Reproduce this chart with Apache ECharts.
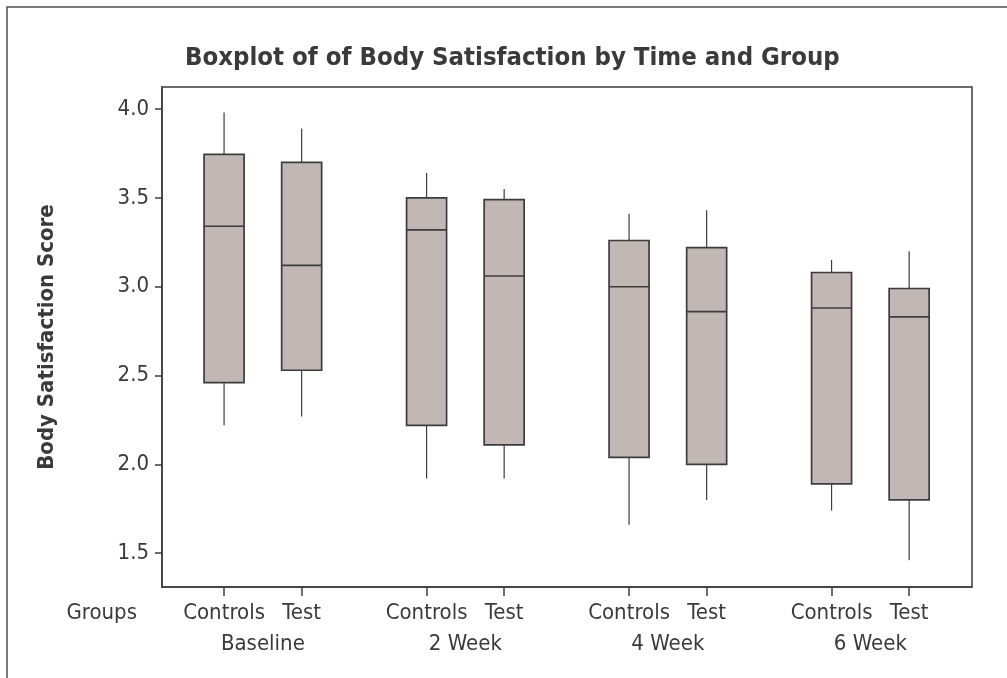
<!DOCTYPE html>
<html>
<head>
<meta charset="utf-8">
<script src="https://cdn.jsdelivr.net/npm/echarts@6/dist/echarts.min.js"></script>
<style>
  html, body { margin: 0; padding: 0; background: #ffffff; }
  #chart { width: 1007px; height: 678px; }
</style>
</head>
<body>
<div id="chart"></div>
<script>
// Time points and groups along the x axis
const timePoints = ['Baseline', '2 Week', '4 Week', '6 Week'];
const groups = ['Controls', 'Test'];

// Five-number summaries, one entry per box, ordered
// Baseline-Controls, Baseline-Test, 2 Week-Controls, 2 Week-Test, ...
const whiskerLow  = [2.22, 2.27, 1.92, 1.92, 1.66, 1.80, 1.74, 1.46];
const quartile1   = [2.46, 2.53, 2.22, 2.11, 2.04, 2.00, 1.89, 1.80];
const medians     = [3.34, 3.12, 3.32, 3.06, 3.00, 2.86, 2.88, 2.83];
const quartile3   = [3.745, 3.70, 3.50, 3.49, 3.26, 3.22, 3.08, 2.99];
const whiskerHigh = [3.98, 3.89, 3.64, 3.55, 3.41, 3.43, 3.15, 3.20];

const yTicks = [1.5, 2.0, 2.5, 3.0, 3.5, 4.0];

// Layout of the boxes on a continuous x scale: groups one unit apart,
// time points spaced further apart.
const GROUP_STEP = 2.61;
const boxPositions = [];
const boxGroupIndex = [];
timePoints.forEach((t, ti) => {
  groups.forEach((g, gi) => {
    boxPositions.push(ti * GROUP_STEP + gi);
    boxGroupIndex.push(gi);
  });
});
const timeCenters = timePoints.map((t, ti) => ti * GROUP_STEP + 0.5);

const boxData = boxPositions.map((x, i) => [
  x, whiskerLow[i], quartile1[i], medians[i], quartile3[i], whiskerHigh[i]
]);

function nearestIndex(list, v) {
  let best = 0;
  list.forEach((p, i) => { if (Math.abs(p - v) < Math.abs(list[best] - v)) best = i; });
  return best;
}

const FONT = "'DejaVu Sans Condensed', 'DejaVu Sans', sans-serif";
const TEXT = '#3a3a3a';
const LINE = '#3c3c3c';
const BOX_FILL = '#c1b8b5';
const BOX_PX = 40;

const chart = echarts.init(document.getElementById('chart'), null, { renderer: 'canvas' });

chart.setOption({
  backgroundColor: '#ffffff',
  animation: false,
  title: {
    text: 'Boxplot of of Body Satisfaction by Time and Group',
    left: 185,
    top: 45,
    padding: 0,
    textStyle: { fontFamily: FONT, fontSize: 25.5, fontWeight: 'bold', color: TEXT }
  },
  graphic: [{
    type: 'rect',
    silent: true,
    shape: { x: 7, y: 7, width: 1200, height: 900 },
    style: { fill: 'none', stroke: '#505050', lineWidth: 1.5 }
  }],
  grid: {
    left: 162, right: 35, top: 87, bottom: 91,
    show: true,
    borderColor: LINE,
    borderWidth: 1.5,
    containLabel: false
  },
  xAxis: [{
    type: 'value',
    min: -0.8,
    max: 9.64,
    name: 'Groups',
    nameLocation: 'start',
    nameGap: 25,
    nameTextStyle: { fontFamily: FONT, fontSize: 22, color: TEXT, verticalAlign: 'top', lineHeight: 52 },
    axisLine: { show: true, onZero: false, lineStyle: { color: LINE, width: 1.5 } },
    axisTick: { show: true, length: 9, customValues: boxPositions, lineStyle: { color: LINE, width: 1.5 } },
    axisLabel: {
      customValues: boxPositions,
      margin: 15,
      fontFamily: FONT, fontSize: 22, color: TEXT,
      formatter: v => groups[boxGroupIndex[nearestIndex(boxPositions, v)]]
    },
    splitLine: { show: false }
  }, {
    type: 'value',
    position: 'bottom',
    min: -0.8,
    max: 9.64,
    axisLine: { show: false },
    axisTick: { show: false },
    axisLabel: {
      customValues: timeCenters,
      margin: 46,
      fontFamily: FONT, fontSize: 22, color: TEXT,
      formatter: v => timePoints[nearestIndex(timeCenters, v)]
    },
    splitLine: { show: false }
  }],
  yAxis: {
    type: 'value',
    min: 1.31,
    max: 4.124,
    name: 'Body Satisfaction Score',
    nameLocation: 'middle',
    nameGap: 104,
    nameTextStyle: { fontFamily: FONT, fontSize: 22, fontWeight: 'bold', color: TEXT },
    axisLine: { show: true, onZero: false, lineStyle: { color: LINE, width: 1.5 } },
    axisTick: { show: true, length: 7, customValues: yTicks, lineStyle: { color: LINE, width: 1.5 } },
    axisLabel: {
      customValues: yTicks,
      margin: 13,
      fontFamily: FONT, fontSize: 22, color: TEXT,
      formatter: v => v.toFixed(1)
    },
    splitLine: { show: false }
  },
  series: [{
    type: 'custom',
    xAxisIndex: 0,
    yAxisIndex: 0,
    data: boxData,
    encode: { x: 0, y: [1, 2, 3, 4, 5] },
    renderItem: function (params, api) {
      const x = api.value(0);
      const pLow = api.coord([x, api.value(1)]);
      const pQ1 = api.coord([x, api.value(2)]);
      const pMed = api.coord([x, api.value(3)]);
      const pQ3 = api.coord([x, api.value(4)]);
      const pHigh = api.coord([x, api.value(5)]);
      const cx = pMed[0];
      const half = BOX_PX / 2;
      return {
        type: 'group',
        children: [
          { type: 'line', shape: { x1: cx, y1: pHigh[1], x2: cx, y2: pQ3[1] },
            style: { stroke: LINE, lineWidth: 1.2 } },
          { type: 'line', shape: { x1: cx, y1: pQ1[1], x2: cx, y2: pLow[1] },
            style: { stroke: LINE, lineWidth: 1.2 } },
          { type: 'rect', shape: { x: cx - half, y: pQ3[1], width: BOX_PX, height: pQ1[1] - pQ3[1] },
            style: { fill: BOX_FILL, stroke: LINE, lineWidth: 1.7 } },
          { type: 'line', shape: { x1: cx - half, y1: pMed[1], x2: cx + half, y2: pMed[1] },
            style: { stroke: LINE, lineWidth: 1.6 } }
        ]
      };
    }
  }]
});
</script>
</body>
</html>
